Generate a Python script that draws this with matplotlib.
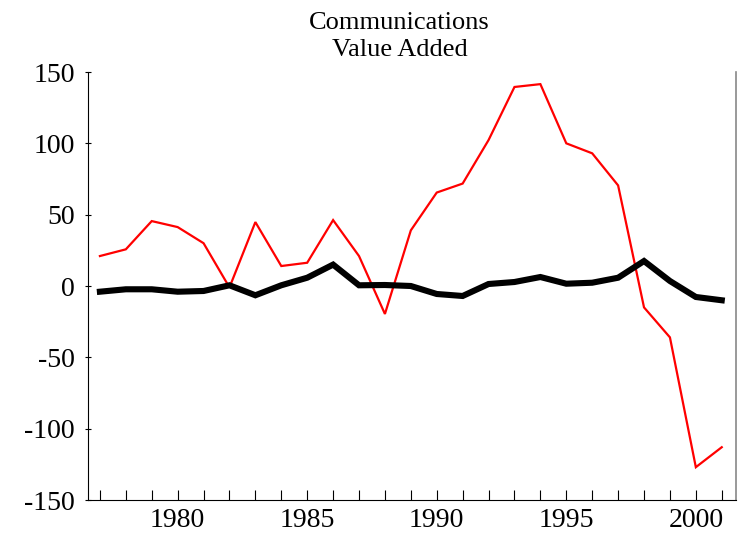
import matplotlib
matplotlib.use("Agg")
import matplotlib.pyplot as plt
from matplotlib.ticker import MultipleLocator

years = list(range(1977, 2002))
red_values = [21, 25.7, 45.5, 41.3, 30, -1, 44.8, 14, 16.3, 46.2, 21, -19.6,
              39, 65.5, 71.8, 102.3, 139.5, 141.5, 100, 93, 70.5, -15, -36, -127, -113]
black_values = [-4, -2.3, -2.3, -4, -3.5, 0.5, -6.5, 0.5, 5.8, 15, 0.5, 0.7,
                0, -5.6, -7, 1.4, 2.8, 6.3, 1.6, 2.3, 5.8, 17.5, 3.5, -7.7, -10]
title = "Communications\nValue Added"
y_ticks = [-150, -100, -50, 0, 50, 100, 150]
x_ticks = [1980, 1985, 1990, 1995, 2000]

plt.rcParams['font.family'] = ['Liberation Serif', 'DejaVu Serif']

fig = plt.figure(figsize=(7.4, 5.35), dpi=100)
ax = fig.add_axes([88/740, 35/535, (736-88)/740, (500-72)/535])

ax.plot(years, red_values, color='#ff0000', lw=1.6, solid_joinstyle='miter')
ax.plot(years, black_values, color='black', lw=4.4, solid_joinstyle='miter')

ax.set_xlim(1976.54, 2001.55)
ax.set_ylim(-150, 150)
ax.set_yticks(y_ticks)
ax.set_yticklabels([str(v) for v in y_ticks])
ax.set_xticks(x_ticks)
ax.set_xticklabels([str(v) for v in x_ticks])
ax.xaxis.set_minor_locator(MultipleLocator(1))

ax.spines['top'].set_visible(False)
ax.spines['right'].set_color('#888888')
ax.spines['right'].set_linewidth(1.2)
ax.spines['left'].set_linewidth(0.8)
ax.spines['bottom'].set_linewidth(0.8)

ax.tick_params(axis='x', which='both', direction='in', length=7, width=0.8,
               labelsize=20, pad=6, top=False)
ax.tick_params(axis='y', which='major', direction='inout', length=5, width=0.8,
               labelsize=20, pad=7, right=False)

fig.text(0.54, 1 - 36.5/535, title, ha='center', va='center', fontsize=19,
         linespacing=1.3)

fig.savefig("out.png", dpi=100)
